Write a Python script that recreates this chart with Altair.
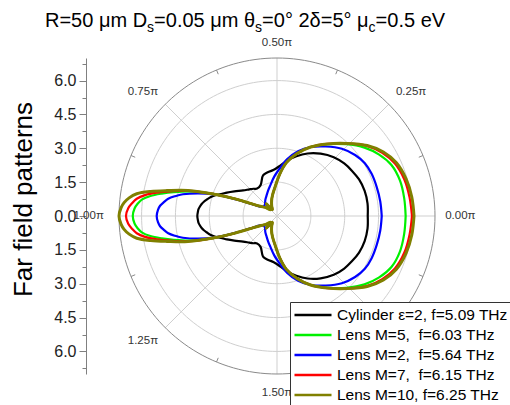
import altair as alt
import pandas as pd
import numpy as np

FONT = "Liberation Sans"

# ---------------- data (upper half, pattern is mirror-symmetric) ----------------
THETA = [0, 8, 16, 24, 31, 38, 46, 55, 64, 72, 80, 86, 94, 102, 109, 118, 126,
         131, 136, 143, 150, 155, 158, 161, 164, 167, 169, 171, 173, 175, 177, 180]
R_CYL = [4.02, 4.05, 4.04, 3.98, 3.88, 3.78, 3.62, 3.37, 3.08, 2.78, 2.48, 2.25, 2.05, 1.98, 1.9, 1.55, 1.5,
         1.6, 1.7, 1.88, 2.18, 2.45, 2.62, 2.85, 3.05, 3.2, 3.3, 3.38, 3.44, 3.49, 3.51, 3.53]
R_M5 = [5.7, 5.69, 5.67, 5.55, 5.28, 4.92, 4.42, 3.88, 3.4, 2.92, 2.4, 1.88, 1.28, 0.95, 0.73, 0.5, 0.35,
        0.72, 0.4, 0.62, 0.86, 1.35, 2.05, 3.0, 3.95, 4.7, 5.2, 5.68, 6.02, 6.2, 6.32, 6.39]
R_M2 = [4.64, 4.62, 4.6, 4.59, 4.54, 4.39, 4.14, 3.76, 3.4, 3.02, 2.55, 2.15, 1.75, 1.4, 1.2, 1.0, 0.88,
        0.8, 0.74, 0.72, 0.8, 1.3, 2.0, 2.95, 3.65, 4.28, 4.6, 4.88, 5.05, 5.2, 5.28, 5.33]
R_M7 = [5.98, 5.93, 5.87, 5.72, 5.44, 5.05, 4.47, 3.9, 3.4, 2.92, 2.4, 1.88, 1.28, 0.95, 0.73, 0.5, 0.35,
        0.72, 0.4, 0.62, 0.86, 1.35, 2.05, 3.0, 4.05, 4.85, 5.42, 5.92, 6.26, 6.45, 6.6, 6.69]
R_M10 = [6.07, 6.03, 5.95, 5.79, 5.5, 5.07, 4.47, 3.9, 3.4, 2.92, 2.4, 1.88, 1.28, 0.95, 0.73, 0.5, 0.35,
         0.72, 0.4, 0.62, 0.86, 1.35, 2.05, 3.0, 4.1, 5.0, 5.7, 6.29, 6.6, 6.8, 6.92, 7.0]

LABELS = ["Cylinder \u03b5=2, f=5.09 THz", "Lens M=5,\u00a0 f=6.03 THz", "Lens M=2,\u00a0 f=5.64 THz",
          "Lens M=7,\u00a0 f=6.15 THz", "Lens M=10, f=6.25 THz"]
COLORS = ["#000000", "#00f000", "#0000ff", "#ff0000", "#808000"]

GRID_R = [1.5, 3.0, 4.5, 6.0]
OUTER_R = 7.0
SPOKES = [0, 45, 90, 135, 180, 225, 270, 315]
OUTER_TICKS = [22.5, 67.5, 112.5, 157.5, 202.5, 247.5, 292.5, 337.5]
# the 1.75π label is hidden under the legend in the reference
ANG_LABELS = ["0.00\u03c0", "0.25\u03c0", "0.50\u03c0", "0.75\u03c0", "1.00\u03c0", "1.25\u03c0", "1.50\u03c0"]
ANG_POS = [0, 45, 90, 135, 180, 225, 270]
Y_TICKS = [-6.75, -6.0, -5.25, -4.5, -3.75, -3.0, -2.25, -1.5, -0.75, 0.0,
           0.75, 1.5, 2.25, 3.0, 3.75, 4.5, 5.25, 6.0, 6.75]

# ---------------- build tables ----------------
series_order = [(LABELS[0], R_CYL), (LABELS[2], R_M2), (LABELS[1], R_M5), (LABELS[3], R_M7), (LABELS[4], R_M10)]
rows = []
for name, rr in series_order:
    i = 0
    for t, r in zip(THETA, rr):
        rows.append(dict(series=name, theta=t, r=r, idx=i)); i += 1
    for t, r in zip(reversed(THETA[:-1]), reversed(rr[:-1])):
        rows.append(dict(series=name, theta=360 - t, r=r, idx=i)); i += 1
curves = pd.DataFrame(rows)

circ_rows = []
for g in GRID_R + [OUTER_R]:
    for i, a in enumerate(range(0, 361, 2)):
        circ_rows.append(dict(r=g, theta=a, idx=i))
circles = pd.DataFrame(circ_rows)

SC = alt.Scale(domain=[-7, 7], nice=False, zero=False)

yaxis = alt.Axis(
    values=Y_TICKS,
    labelExpr="datum.value % 1.5 === 0 ? format(abs(datum.value), '.1f') : ''",
    tickSize={"condition": {"test": "datum.value % 1.5 === 0", "value": 7}, "value": 4},
    offset=33, grid=False, labelOverlap=False,
    title="Far field patterns", titleFontSize=26, titleFontWeight="normal", titleFont=FONT,
    titleColor="black", titleX=-50, titleY=141,
    labelFontSize=16, labelFont=FONT, labelColor="#222222", labelPadding=3,
    domainColor="#808080", tickColor="#808080",
)

X = alt.X("x:Q", scale=SC, axis=None)
Y = alt.Y("y:Q", scale=SC, axis=yaxis)
calc = dict(x="datum.r*cos(datum.theta*PI/180)", y="datum.r*sin(datum.theta*PI/180)")

grid = alt.Chart(circles).transform_filter(f"datum.r < {OUTER_R}").transform_calculate(**calc).mark_line(
    color="#cfcfcf", strokeWidth=1).encode(x=X, y=Y, detail="r:N", order="idx:Q")
outer = alt.Chart(circles).transform_filter(f"datum.r >= {OUTER_R}").transform_calculate(**calc).mark_line(
    color="#8a8a8a", strokeWidth=1).encode(x=X, y=Y, detail="r:N", order="idx:Q")

spokes = alt.Chart(pd.DataFrame({"theta": SPOKES})).transform_calculate(
    x0="0", y0="0",
    x1=f"{OUTER_R}*cos(datum.theta*PI/180)", y1=f"{OUTER_R}*sin(datum.theta*PI/180)"
).mark_rule(color="#cfcfcf", strokeWidth=1).encode(
    x=alt.X("x0:Q", scale=SC, axis=None), y=alt.Y("y0:Q", scale=SC, axis=yaxis), x2="x1:Q", y2="y1:Q")

ticks = alt.Chart(pd.DataFrame({"theta": OUTER_TICKS})).transform_calculate(
    x0=f"6.8*cos(datum.theta*PI/180)", y0=f"6.8*sin(datum.theta*PI/180)",
    x1=f"{OUTER_R}*cos(datum.theta*PI/180)", y1=f"{OUTER_R}*sin(datum.theta*PI/180)"
).mark_rule(color="#8a8a8a", strokeWidth=1).encode(
    x=alt.X("x0:Q", scale=SC, axis=None), y=alt.Y("y0:Q", scale=SC, axis=yaxis), x2="x1:Q", y2="y1:Q")

ALIGNS = [("left", "middle", 0, 0), ("left", "bottom", 0, 0), ("center", "bottom", 0, 0), ("right", "bottom", 0, 0),
          ("right", "middle", -5, 0), ("right", "top", 0, 0), ("center", "top", 0, 3)]
lab_df = pd.DataFrame({"lab": ANG_LABELS, "theta": ANG_POS})
label_layers = []
for lab, (al, bl, dx, dy) in zip(ANG_LABELS, ALIGNS):
    label_layers.append(
        alt.Chart(lab_df).transform_filter(alt.datum.lab == lab).transform_calculate(
            x="7.45*cos(datum.theta*PI/180)", y="7.45*sin(datum.theta*PI/180)"
        ).mark_text(align=al, baseline=bl, dx=dx, dy=dy, fontSize=11.5, font=FONT, color="#333333").encode(
            x=X, y=Y, text="lab:N")
    )

COLOR = alt.Color("series:N", scale=alt.Scale(domain=LABELS, range=COLORS), legend=alt.Legend(
    title=None, orient="none", legendX=171, legendY=244, symbolType="stroke", symbolSize=1369,
    symbolStrokeWidth=2.5, labelFontSize=15.5, labelFont=FONT, labelColor="black", clipHeight=20,
    rowPadding=0, padding=3, strokeColor="#333333", fillColor="white", labelLimit=0, labelOffset=4,
    symbolOffset=0))

lines = alt.Chart(curves).transform_filter(alt.datum.series != LABELS[4]).transform_calculate(**calc).mark_line(
    strokeWidth=2.2, interpolate="catmull-rom").encode(x=X, y=Y, color=COLOR, order="idx:Q")
olive = alt.Chart(curves).transform_filter(alt.datum.series == LABELS[4]).transform_calculate(**calc).mark_line(
    strokeWidth=3, interpolate="catmull-rom").encode(x=X, y=Y, color=COLOR, order="idx:Q")

# ---------------- title with subscripts ----------------
W = {'R': 722, '=': 584, '5': 556, '0': 556, ' ': 278, '\u03bc': 576, 'm': 833, 'D': 722, '.': 278,
     '\u03b8': 556, '\u00b0': 400, '2': 556, '\u03b4': 556, 'e': 556, 'V': 667, 's': 500, 'c': 500}
TITLE_PARTS = [("R=50 \u03bcm D", False), ("s", True), ("=0.05 \u03bcm \u03b8", False), ("s", True),
               ("=0\u00b0 2\u03b4=5\u00b0 \u03bc", False), ("c", True), ("=0.5 eV", False)]
title_layers = []
px = -74.0
for seg, sub in TITLE_PARTS:
    fs = 14 if sub else 20
    title_layers.append(
        alt.Chart(pd.DataFrame({"a": [0]})).mark_text(
            align="left", baseline="alphabetic", fontSize=fs, font=FONT, color="black").encode(
            x=alt.value(px), y=alt.value(-26 if sub else -31), text=alt.value(seg))
    )
    px += sum(W.get(ch, 556) for ch in seg) * fs / 1000.0

chart = alt.layer(grid, spokes, ticks, outer, *label_layers, lines, olive, *title_layers).properties(
    width=316, height=316,
    padding={"left": 119, "top": 58, "right": 75, "bottom": 31},
    autosize=alt.AutoSizeParams(type="none"),
).configure_view(stroke=None)

chart.save("out.html", embed_options={"renderer": "svg", "actions": False})
